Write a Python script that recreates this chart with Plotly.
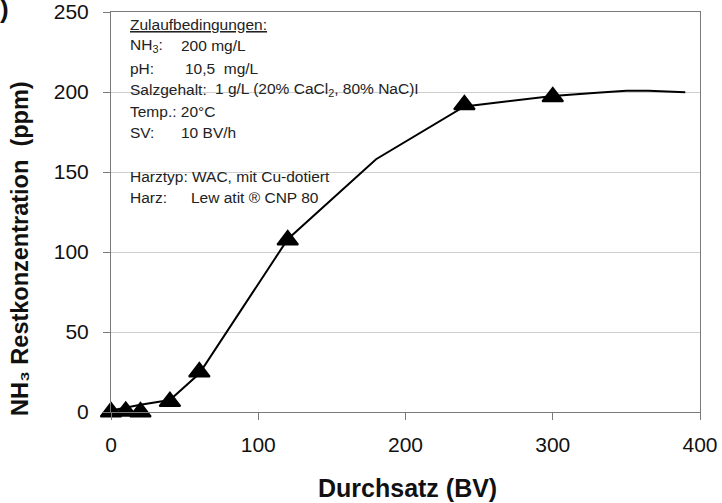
import plotly.graph_objects as go

# Breakthrough curve of NH3 on a Cu-doped WAC resin
bv_measured = [0, 10, 20, 40, 60, 120, 240, 300]
nh3_measured = [0, 0.4, 0, 6.5, 25, 107.5, 192, 197]

bv_curve = [0, 10, 20, 40, 60, 120, 180, 240, 300, 330, 350, 365, 390]
nh3_curve = [1, 2.8, 4.5, 7.5, 24, 108, 158, 191, 197.5, 199.5, 200.8, 200.8, 199.8]

x_ticks = [0, 100, 200, 300, 400]
y_ticks = [0, 50, 100, 150, 200, 250]

FONT = "Liberation Sans, Arial, sans-serif"
W, H = 722, 503
L, R, T, B = 111, 22, 12, 91
PW, PH = W - L - R, H - T - B


def px(xp):
    return (xp - L) / PW


def py(yp):
    return (H - B - yp) / PH


fig = go.Figure()
fig.add_trace(go.Scatter(
    x=bv_curve, y=nh3_curve, mode="lines",
    line=dict(color="black", width=2), hoverinfo="skip", showlegend=False,
))
fig.add_trace(go.Scatter(
    x=bv_measured, y=nh3_measured, mode="markers",
    marker=dict(symbol="triangle-up", size=18, color="black",
                line=dict(color="black", width=2)),
    showlegend=False, cliponaxis=False,
))

# white text panel behind the feed conditions (above grid, below traces)
fig.add_shape(type="rect", xref="paper", yref="paper",
              x0=px(126), x1=px(414), y0=py(212), y1=py(14),
              fillcolor="white", line=dict(width=0), layer="between")

txt = dict(xref="paper", yref="paper", showarrow=False, xanchor="left",
           yanchor="middle", font=dict(family=FONT, size=15.5, color="#222"))
lines = [
    (128, 24, "<u>Zulaufbedingungen:</u>"),
    (128, 46, "NH<sub>3</sub>:"),
    (179, 46, "200 mg/L"),
    (128, 68, "pH:"),
    (183, 68, "10,5  mg/L"),
    (128, 90, "Salzgehalt:"),
    (213, 90, "1 g/L (20% CaCl<sub>2</sub>, 80% NaC)I"),
    (128, 111, "Temp.: 20°C"),
    (128, 132, "SV:"),
    (179, 132, "10 BV/h"),
    (128, 176, "Harztyp: WAC, mit Cu-dotiert"),
    (128, 197, "Harz:"),
    (189, 197, "Lew atit ® CNP 80"),
]
for xp, yp, s in lines:
    fig.add_annotation(x=px(xp), y=py(yp), text=s, **txt)

# axis titles
fig.add_annotation(xref="paper", yref="paper", x=px(407), y=py(488),
                   text="<b>Durchsatz (BV)</b>", showarrow=False,
                   xanchor="center", yanchor="middle",
                   font=dict(family=FONT, size=25, color="#111"))
fig.add_annotation(xref="paper", yref="paper", x=px(20), y=py(249),
                   text="<b>NH₃ Restkonzentration  (ppm)</b>", showarrow=False,
                   textangle=-90, xanchor="center", yanchor="middle",
                   font=dict(family=FONT, size=23.5, color="#111"))
fig.add_annotation(xref="paper", yref="paper", x=px(11), y=py(9),
                   text="<b>)</b>", showarrow=False,
                   xanchor="right", yanchor="middle",
                   font=dict(family=FONT, size=26, color="#111"))

fig.update_xaxes(
    range=[0, 400], tickvals=x_ticks, showgrid=False, zeroline=False,
    showline=True, linecolor="#7a7a7a", linewidth=1, mirror=True,
    ticks="outside", ticklen=7, tickcolor="#7a7a7a", ticklabelstandoff=7,
    tickfont=dict(family=FONT, size=21, color="#111"),
)
fig.update_yaxes(
    range=[0, 250], tickvals=y_ticks, showgrid=True, gridcolor="#cfcfcf",
    zeroline=True, zerolinecolor="#333", zerolinewidth=1,
    showline=True, linecolor="#7a7a7a", linewidth=1, mirror=True,
    ticks="outside", ticklen=7, tickcolor="#7a7a7a", ticklabelstandoff=10,
    tickfont=dict(family=FONT, size=21, color="#111"),
)
fig.update_layout(
    width=W, height=H,
    margin=dict(l=L, r=R, t=T, b=B, autoexpand=False),
    paper_bgcolor="white", plot_bgcolor="white",
)
fig.write_html("out.html")
